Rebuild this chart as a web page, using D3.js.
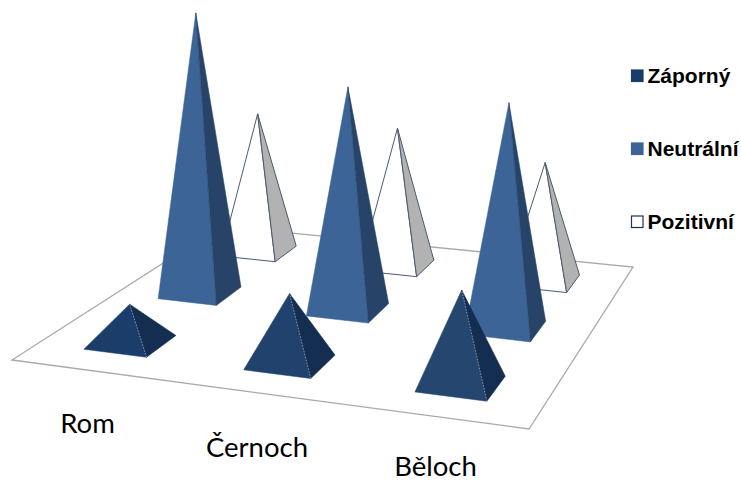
<!DOCTYPE html>
<html>
<head>
<meta charset="utf-8">
<style>
html, body { margin: 0; padding: 0; background: #fff; }
svg { display: block; }
</style>
<script src="https://cdn.jsdelivr.net/npm/d3@7"></script>
</head>
<body>
<svg></svg>
<script>
var width = 741;
var height = 482;

var categories = ["Rom", "Černoch", "Běloch"];
var series = ["Záporný", "Neutrální", "Pozitivní"];
var zaporny = [12.7, 23, 31.3];
var neutralni = [93.3, 74.3, 75];
var pozitivni = [45.7, 45.7, 39.3];
var seriesValues = [zaporny, neutralni, pozitivni];

var frontColors = ["#1c3f6b", "#3c6496", "#ffffff"];
var sideColors = ["#132e50", "#274468", "#b2b2b2"];
var legendColors = ["#1a3c68", "#3c6496", "#ffffff"];

// floor corners on screen: front left, front right, back right, back left
var floorCorners = [[12, 360], [529, 429], [633, 267], [221, 226]];

// square to quad perspective map
function makeHomography(q){
  var x0=q[0][0], y0=q[0][1], x1=q[1][0], y1=q[1][1], x2=q[2][0], y2=q[2][1], x3=q[3][0], y3=q[3][1];
  var dx1=x1-x2, dx2=x3-x2, sx=x0-x1+x2-x3;
  var dy1=y1-y2, dy2=y3-y2, sy=y0-y1+y2-y3;
  var det=dx1*dy2-dx2*dy1;
  var g=(sx*dy2-dx2*sy)/det;
  var h=(dx1*sy-sx*dy1)/det;
  var a=x1-x0+g*x1, b=x3-x0+h*x3;
  var d=y1-y0+g*y1, e=y3-y0+h*y3;
  return function(u,v){
    var w=g*u+h*v+1;
    return [(a*u+b*v+x0)/w, (d*u+e*v+y0)/w];
  };
}
var project = makeHomography(floorCorners);

var uScale = d3.scaleBand().domain(categories).range([0, 1]).paddingInner(0.6).paddingOuter(0.3);
var vScale = d3.scaleBand().domain(series).range([0, 1]).paddingInner(0.6).paddingOuter(0.3);
var hScale = d3.scaleLinear().domain([0, 100]).range([0, 300]);
var zapornyShade = d3.scaleLinear().domain([10, 32]).range(["#1a3c68", "#24466f"]);
var labelX = d3.scaleOrdinal().domain(categories).range([87.5, 257, 435.5]);
var labelY = d3.scaleOrdinal().domain(categories).range([433, 457, 475.5]);

var svg = d3.select("svg")
  .attr("width", width)
  .attr("height", height)
  .attr("viewBox", "0 0 " + width + " " + height);

var line = d3.line();

svg.append("path")
  .attr("d", line(floorCorners) + "Z")
  .attr("fill", "#fff")
  .attr("stroke", "#a9a9a9")
  .attr("stroke-width", 1.3);

// back row first, so the nearer pyramids cover the farther ones
var rows = [2, 1, 0];
rows.forEach(function(s){
  var g = svg.append("g").attr("class", "series-" + s);
  categories.forEach(function(cat, c){
    var u0 = uScale(cat), u1 = u0 + uScale.bandwidth();
    var v0 = vScale(series[s]), v1 = v0 + vScale.bandwidth();
    var fl = project(u0, v0), fr = project(u1, v0), rb = project(u1, v1);
    var centre = project((u0+u1)/2, (v0+v1)/2);
    var h = hScale(seriesValues[s][c]);
    // verticals lean a little away from the middle of the picture
    var apex = [centre[0] + (centre[0]-350)*h*1e-4, centre[1] - h];
    var front = s === 0 ? zapornyShade(seriesValues[s][c]) : frontColors[s];
    var edge = s === 2 ? "#4a5a72" : front;

    g.append("path")
      .attr("d", line([fl, fr, apex]) + "Z")
      .attr("fill", front)
      .attr("stroke", edge)
      .attr("stroke-width", s === 2 ? 1 : 0.5);
    g.append("path")
      .attr("d", line([fr, rb, apex]) + "Z")
      .attr("fill", sideColors[s])
      .attr("stroke", s === 2 ? edge : sideColors[s])
      .attr("stroke-width", s === 2 ? 1 : 0.5);
    if (s === 0) {
      g.append("path")
        .attr("d", line([fr, apex]))
        .attr("fill", "none")
        .attr("stroke", "#9fb0c6")
        .attr("stroke-width", 0.8)
        .attr("stroke-dasharray", "1.5 1.5");
    }
  });
});

categories.forEach(function(cat){
  svg.append("text")
    .attr("x", labelX(cat))
    .attr("y", labelY(cat))
    .attr("text-anchor", "middle")
    .attr("font-family", "Lato, 'Open Sans', sans-serif")
    .attr("font-size", 27.5)
    .attr("fill", "#000")
    .text(cat);
});

var legendY = d3.scalePoint().domain(series).range([76, 222]);
series.forEach(function(name, i){
  var y = legendY(name);
  svg.append("rect")
    .attr("x", 631.5)
    .attr("y", y - 6)
    .attr("width", 11.5)
    .attr("height", 11.5)
    .attr("fill", legendColors[i])
    .attr("stroke", i === 2 ? "#1a3358" : legendColors[i])
    .attr("stroke-width", 1.2);
  svg.append("text")
    .attr("x", 647.5)
    .attr("y", y + 7)
    .attr("font-family", "'Liberation Sans', Arial, sans-serif")
    .attr("font-weight", "bold")
    .attr("font-size", 21)
    .attr("fill", "#000")
    .text(name);
});
</script>
</body>
</html>
